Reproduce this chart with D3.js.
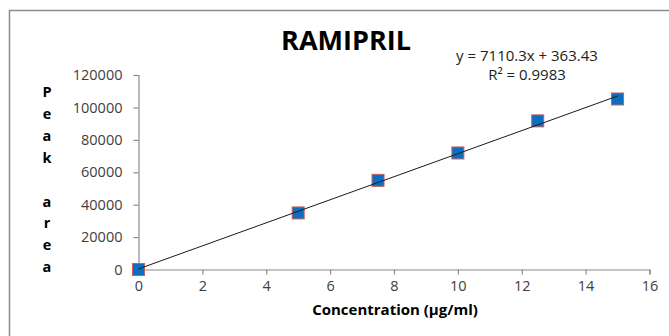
<!DOCTYPE html>
<html>
<head>
<meta charset="utf-8">
<script src="https://cdn.jsdelivr.net/npm/d3@7"></script>
<style>
  body { margin: 0; background: #fff; }
  text { font-family: "Open Sans", sans-serif; }
</style>
</head>
<body>
<div id="chart"></div>
<script>
const width = 669;
const height = 336;

// Calibration data
const concentrations = [0, 5, 7.5, 10, 12.5, 15];
const peakAreas = [0, 34900, 55000, 71900, 91700, 105200];

// Trend line from the chart
const slope = 7110.3;
const intercept = 363.43;

const xTicks = [0, 2, 4, 6, 8, 10, 12, 14, 16];
const yTicks = [0, 20000, 40000, 60000, 80000, 100000, 120000];
const yLabelLetters = ["P", "e", "a", "k", "", "a", "r", "e", "a"];

const svg = d3.select("#chart").append("svg")
  .attr("width", width)
  .attr("height", height);

// outer chart frame, runs off the right and bottom edges
svg.append("rect")
  .attr("x", 9.5)
  .attr("y", 10.5)
  .attr("width", 700)
  .attr("height", 400)
  .attr("fill", "#fff")
  .attr("stroke", "#8c8c8c")
  .attr("stroke-width", 1.5);

const x = d3.scaleLinear().domain([0, 16]).range([138.5, 649.5]);
const y = d3.scaleLinear().domain([0, 120000]).range([269.5, 75]);

const xAxis = svg.append("g")
  .attr("transform", `translate(0,${y(0)})`)
  .call(d3.axisBottom(x).tickValues(xTicks).tickSize(5).tickPadding(6).tickFormat(d3.format("d")));

const yAxis = svg.append("g")
  .attr("transform", `translate(${x(0)},0)`)
  .call(d3.axisLeft(y).tickValues(yTicks).tickSize(5).tickPadding(11).tickFormat(d3.format("d")));

[xAxis, yAxis].forEach(g => {
  g.select(".domain").attr("stroke", "#8c8c8c").attr("stroke-width", 1.2);
  g.selectAll(".tick line").attr("stroke", "#8c8c8c").attr("stroke-width", 1.2);
  g.selectAll(".tick text")
    .attr("fill", "#404040")
    .style("font-size", "14.5px")
    .style("font-family", "'Open Sans', sans-serif");
});

const points = concentrations.map((c, i) => ({ c: c, v: peakAreas[i] }));

svg.append("g")
  .selectAll("rect")
  .data(points)
  .join("rect")
  .attr("x", d => x(d.c) - 6)
  .attr("y", d => y(d.v) - 6)
  .attr("width", 12)
  .attr("height", 12)
  .attr("fill", "#0a6fc2")
  .attr("stroke", "#c9605c")
  .attr("stroke-width", 1);

// linear trend line, drawn over the markers
svg.append("line")
  .attr("x1", x(0))
  .attr("y1", y(intercept))
  .attr("x2", x(15))
  .attr("y2", y(slope * 15 + intercept))
  .attr("stroke", "#1a1a1a")
  .attr("stroke-width", 1);

svg.append("text")
  .attr("x", 346)
  .attr("y", 50)
  .attr("text-anchor", "middle")
  .attr("font-weight", "bold")
  .attr("font-size", 27)
  .attr("fill", "#000")
  .text("RAMIPRIL");

svg.append("text")
  .attr("x", 527)
  .attr("y", 61)
  .attr("text-anchor", "middle")
  .attr("font-size", 15)
  .attr("fill", "#222")
  .text("y = 7110.3x + 363.43");

svg.append("text")
  .attr("x", 527)
  .attr("y", 80)
  .attr("text-anchor", "middle")
  .attr("font-size", 15)
  .attr("fill", "#222")
  .text("R² = 0.9983");

svg.append("text")
  .attr("x", 395)
  .attr("y", 315)
  .attr("text-anchor", "middle")
  .attr("font-weight", "bold")
  .attr("font-size", 15)
  .attr("fill", "#000")
  .text("Concentration (µg/ml)");

// stacked y-axis title letters
svg.append("g")
  .selectAll("text")
  .data(yLabelLetters)
  .join("text")
  .attr("x", 47)
  .attr("y", (d, i) => 97 + i * 21.9)
  .attr("text-anchor", "middle")
  .attr("font-weight", "bold")
  .attr("font-size", 14.5)
  .attr("fill", "#000")
  .text(d => d);
</script>
</body>
</html>
